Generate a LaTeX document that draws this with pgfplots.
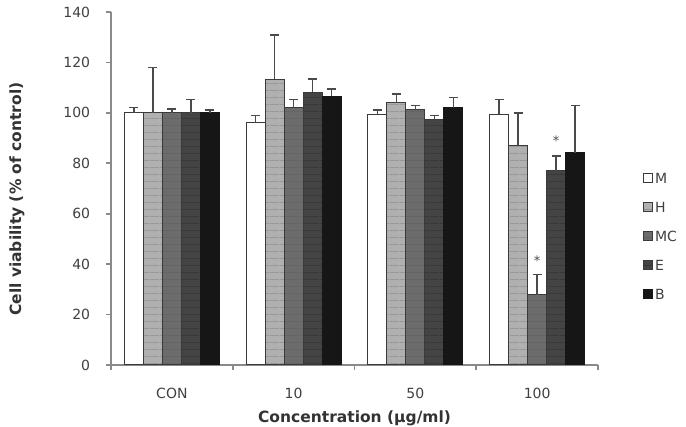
\documentclass[border=0pt]{standalone}
\usepackage{fontspec}
\setmainfont{DejaVu Sans}
\usepackage{pgfplots}
\usepackage{pgfplotstable}
\usetikzlibrary{patterns}
\pgfplotsset{compat=1.18}
\definecolor{axgray}{HTML}{8A8A8A}
\definecolor{cH}{HTML}{B0B0B0}
\definecolor{cMC}{HTML}{6C6C6C}
\definecolor{cE}{HTML}{444444}
\definecolor{cB}{HTML}{161616}
\definecolor{edge}{HTML}{3A3A3A}
\definecolor{errc}{HTML}{4A4A4A}
\pgfdeclarepatternformonly{hstripes}{\pgfpointorigin}{\pgfpoint{10pt}{7pt}}{\pgfpoint{10pt}{7pt}}{%
  \pgfsetlinewidth{0.7pt}\pgfpathmoveto{\pgfpoint{-0.1pt}{0.5pt}}\pgfpathlineto{\pgfpoint{10.1pt}{0.5pt}}\pgfusepath{stroke}}
\pgfplotstableread{
x M eM H eH MC eMC E eE B eB
0 100 2.2 100 18.0 100 1.6 100 5.2 100 1.1
1 96.1 2.8 113.4 17.4 102.1 3.3 108.1 5.3 106.5 3.0
2 99.5 1.7 104.2 3.2 101.2 1.8 97.5 1.4 102.1 3.9
3 99.5 5.9 87.2 12.8 27.8 8.0 77.0 5.9 84.2 18.6
}\data
\begin{document}
\fontsize{14pt}{17pt}\selectfont
\begin{tikzpicture}
\begin{axis}[
  scale only axis, width=487pt, height=353pt,
  xmin=-0.5, xmax=3.5, ymin=0, ymax=140,
  ybar=0pt, bar width=0.156,
  axis lines*=left,
  axis line style={draw=axgray, line width=1.6pt},
  xtick={0,1,2,3}, xticklabels={CON,10,50,100},
  minor xtick={-0.5,0.5,1.5,2.5,3.5},
  major x tick style={draw=none},
  ytick={0,20,...,140},
  tick align=outside,
  tick style={draw=axgray, line width=1.6pt},
  major tick length=5pt, minor tick length=5pt,
  /pgf/number format/assume math mode=true,
  ticklabel style={font=\fontsize{14pt}{17pt}\selectfont, text=black!75},
  yticklabel style={xshift=-11pt},
  xticklabel style={yshift=-13pt},
  ylabel={\textbf{Cell viability (\% of control)}},
  ylabel style={font=\fontsize{15.5pt}{18pt}\selectfont, text=black!80, at={(axis description cs:-0.193,0.47)}, anchor=center, rotate=0},
  xlabel={\textbf{Concentration (μg/ml)}},
  xlabel style={font=\fontsize{15.5pt}{18pt}\selectfont, text=black!80, at={(axis description cs:0.5,0)}, anchor=south, yshift=-61pt, inner sep=0pt},
  error bars/error bar style={draw=errc, line width=1.4pt},
  error bars/error mark options={draw=errc, rotate=90, mark size=4.5pt, line width=1.4pt},
  legend image code/.code={\draw[#1] (0pt,-4.5pt) rectangle (9pt,4.5pt);},
  legend cell align=left,
  legend style={draw=none, fill=none, at={(1.092,0.365)}, anchor=west,
    inner sep=0pt, row sep=15pt,
    font=\fontsize{14pt}{17pt}\selectfont, text=black!75,
    nodes={inner sep=2pt, text height=10pt, text depth=0pt}},
]
\addplot[fill=white, draw=edge, line width=1pt, error bars/.cd, y dir=plus, y explicit]
  table[x=x, y=M, y error=eM] {\data};
\addplot[fill=cH, draw=edge, line width=1pt, postaction={pattern=hstripes, pattern color=black!45}, error bars/.cd, y dir=plus, y explicit]
  table[x=x, y=H, y error=eH] {\data};
\addplot[fill=cMC, draw=edge, line width=1pt, postaction={pattern=hstripes, pattern color=black!62}, error bars/.cd, y dir=plus, y explicit]
  table[x=x, y=MC, y error=eMC] {\data};
\addplot[fill=cE, draw=edge, line width=1pt, postaction={pattern=hstripes, pattern color=black!80}, error bars/.cd, y dir=plus, y explicit]
  table[x=x, y=E, y error=eE] {\data};
\addplot[fill=cB, draw=cB, line width=1pt, error bars/.cd, y dir=plus, y explicit]
  table[x=x, y=B, y error=eB] {\data};
\legend{M,H,MC,E,B}
\node[font=\fontsize{13pt}{15pt}\selectfont, text=black!70] at (axis cs:3,41.5) {*};
\node[font=\fontsize{13pt}{15pt}\selectfont, text=black!70] at (axis cs:3.156,89) {*};
\end{axis}
\pgfresetboundingbox
\path[use as bounding box] (current axis.south west) ++(-111pt,-62pt) rectangle ++(686pt,427pt);
\end{tikzpicture}
\end{document}
